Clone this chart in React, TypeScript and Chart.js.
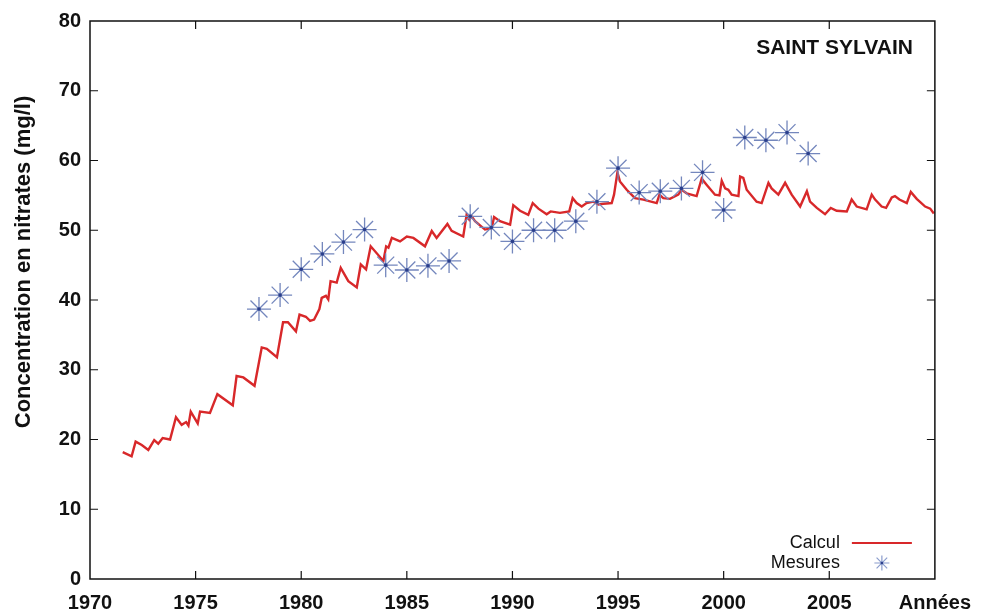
import React, { useEffect, useRef } from "react";
import { Chart, registerables } from "chart.js";

Chart.register(...registerables);

const calculYears = [
  1971.55, 1971.97, 1972.16, 1972.45, 1972.76, 1973.04, 1973.23, 1973.44, 1973.79, 1974.07,
  1974.34, 1974.55, 1974.66, 1974.77, 1975.1, 1975.21, 1975.68, 1976.03, 1976.76, 1976.94,
  1977.26, 1977.79, 1978.13, 1978.37, 1978.85, 1979.14, 1979.37, 1979.75, 1979.92, 1980.22,
  1980.42, 1980.61, 1980.86, 1980.97, 1981.17, 1981.28, 1981.39, 1981.68, 1981.87, 1982.23,
  1982.63, 1982.82, 1983.07, 1983.29, 1983.89, 1984.02, 1984.13, 1984.29, 1984.68, 1985.0,
  1985.31, 1985.86, 1986.18, 1986.41, 1986.92, 1987.12, 1987.67, 1987.83, 1987.96, 1988.07,
  1988.23, 1988.7, 1989.02, 1989.13, 1989.41, 1989.89, 1990.04, 1990.36, 1990.75, 1990.96,
  1991.23, 1991.62, 1991.81, 1992.25, 1992.69, 1992.85, 1993.04, 1993.28, 1993.51, 1993.83,
  1994.07, 1994.3, 1994.7, 1994.81, 1994.97, 1995.09, 1995.41, 1995.8, 1996.2, 1996.83,
  1996.96, 1997.14, 1997.46, 1997.85, 1998.01, 1998.25, 1998.72, 1998.96, 1999.2, 1999.59,
  1999.8, 1999.91, 2000.07, 2000.22, 2000.38, 2000.7, 2000.78, 2000.93, 2001.09, 2001.56,
  2001.8, 2002.12, 2002.27, 2002.59, 2002.91, 2003.22, 2003.62, 2003.94, 2004.09, 2004.41,
  2004.8, 2005.07, 2005.35, 2005.83, 2006.06, 2006.3, 2006.77, 2007.01, 2007.17, 2007.48,
  2007.69, 2007.96, 2008.11, 2008.32, 2008.67, 2008.86, 2009.14, 2009.54, 2009.78, 2009.95,
];

const calculValues = [
  18.2, 17.6, 19.7, 19.2, 18.5, 19.9, 19.4, 20.2, 20.0, 23.2,
  22.1, 22.5, 22.0, 24.0, 22.3, 24.0, 23.8, 26.5, 24.9, 29.1,
  28.9, 27.7, 33.2, 33.0, 31.8, 36.8, 36.8, 35.5, 37.9, 37.6,
  37.0, 37.2, 38.7, 40.3, 40.6, 40.1, 42.7, 42.5, 44.6, 42.7,
  41.8, 45.1, 44.4, 47.7, 45.6, 47.7, 47.5, 48.9, 48.4, 49.1,
  48.9, 47.7, 49.9, 48.9, 50.9, 49.9, 49.1, 52.2, 51.5, 52.0,
  51.3, 50.1, 50.3, 51.9, 51.3, 50.8, 53.6, 52.8, 52.2, 53.9,
  53.1, 52.3, 52.7, 52.5, 52.7, 54.6, 53.9, 53.4, 53.9, 54.1,
  53.7, 53.8, 53.9, 55.1, 58.3, 57.0, 55.8, 54.6, 54.4, 53.9,
  55.1, 54.6, 54.5, 55.1, 55.8, 55.3, 54.9, 57.4, 56.5, 55.1,
  55.0, 57.1, 56.0, 55.8, 55.1, 54.9, 57.7, 57.5, 55.8, 54.1,
  53.9, 56.8, 56.0, 55.1, 56.8, 55.1, 53.4, 55.6, 54.1, 53.2,
  52.3, 53.2, 52.8, 52.7, 54.4, 53.4, 53.0, 55.1, 54.4, 53.4,
  53.2, 54.7, 54.9, 54.4, 53.9, 55.5, 54.5, 53.4, 53.1, 52.4,
];

const mesuresYears = [
  1978, 1979, 1980, 1981, 1982, 1983, 1984, 1985, 1986, 1987, 1988, 1989, 1990, 1991,
  1992, 1993, 1994, 1995, 1996, 1997, 1998, 1999, 2000, 2001, 2002, 2003, 2004,
];
const mesuresValues = [
  38.7, 40.7, 44.4, 46.6, 48.3, 50.1, 45.0, 44.3, 44.9, 45.6, 52.0, 50.4, 48.4, 50.0,
  50.0, 51.3, 54.1, 58.9, 55.4, 55.6, 56.0, 58.3, 52.9, 63.3, 62.9, 64.0, 61.0,
];

const chartTitle = "SAINT SYLVAIN";
const yAxisTitle = "Concentration en nitrates (mg/l)";
const xAxisEndLabel = "Années";
const legendLabels = ["Calcul", "Mesures"];

const FONT = "'Liberation Sans', Arial, Helvetica, sans-serif";
const RED = "#d8282a";
const STAR = "#7487bd";

const framePlugin = {
  id: "frame",
  afterDraw(chart: any) {
    const { ctx, chartArea: a, scales } = chart;
    const xs = scales.x;
    const ys = scales.y;
    ctx.save();
    ctx.strokeStyle = "#111";
    ctx.lineWidth = 1.5;
    ctx.strokeRect(a.left, a.top, a.right - a.left, a.bottom - a.top);
    ctx.lineWidth = 1.2;
    const tl = 8;
    ctx.beginPath();
    for (let v = 1975; v < 2010; v += 5) {
      const px = xs.getPixelForValue(v);
      ctx.moveTo(px, a.bottom);
      ctx.lineTo(px, a.bottom - tl);
      ctx.moveTo(px, a.top);
      ctx.lineTo(px, a.top + tl);
    }
    for (let v = 10; v < 80; v += 10) {
      const py = ys.getPixelForValue(v);
      ctx.moveTo(a.left, py);
      ctx.lineTo(a.left + tl, py);
      ctx.moveTo(a.right, py);
      ctx.lineTo(a.right - tl, py);
    }
    ctx.stroke();

    // title
    ctx.fillStyle = "#111";
    ctx.font = `bold 21px ${FONT}`;
    ctx.textAlign = "right";
    ctx.textBaseline = "middle";
    ctx.fillText(chartTitle, a.right - 22, 48);

    // y axis title
    ctx.save();
    ctx.translate(24, 262);
    ctx.rotate(-Math.PI / 2);
    ctx.textAlign = "center";
    ctx.font = `bold 22px ${FONT}`;
    ctx.fillText(yAxisTitle, 0, 0);
    ctx.restore();

    // legend
    ctx.font = `18px ${FONT}`;
    ctx.fillStyle = "#111";
    ctx.textAlign = "right";
    const tx = a.right - 95;
    const y1 = a.bottom - 36;
    const y2 = a.bottom - 16;
    ctx.fillText(legendLabels[0], tx, y1);
    ctx.fillText(legendLabels[1], tx, y2);
    ctx.strokeStyle = RED;
    ctx.lineWidth = 2;
    ctx.beginPath();
    ctx.moveTo(tx + 12, y1);
    ctx.lineTo(tx + 72, y1);
    ctx.stroke();
    // asterisk
    const cx = tx + 42;
    const r = 7.5;
    ctx.strokeStyle = "#8a9ccc";
    ctx.lineWidth = 1.2;
    ctx.beginPath();
    for (let k = 0; k < 4; k++) {
      const ang = (k * Math.PI) / 4;
      ctx.moveTo(cx - r * Math.cos(ang), y2 - r * Math.sin(ang));
      ctx.lineTo(cx + r * Math.cos(ang), y2 + r * Math.sin(ang));
    }
    ctx.stroke();
    ctx.fillStyle = "#2b3f8c";
    ctx.beginPath();
    ctx.arc(cx, y2, 1.3, 0, Math.PI * 2);
    ctx.fill();
    ctx.restore();
  },
};

export default function App() {
  const ref = useRef<HTMLCanvasElement | null>(null);

  useEffect(() => {
    document.body.style.margin = "0";
    const canvas = ref.current;
    if (!canvas) return;
    const calcul = calculYears.map((x, i) => ({ x, y: calculValues[i] }));
    const mesures = mesuresYears.map((x, i) => ({ x, y: mesuresValues[i] }));
    const chart = new Chart(canvas, {
      type: "scatter",
      data: {
        datasets: [
          {
            label: legendLabels[0],
            data: calcul,
            showLine: true,
            borderColor: RED,
            borderWidth: 2.4,
            pointRadius: 0,
            tension: 0,
            order: 2,
          },
          {
            label: legendLabels[1],
            data: mesures,
            showLine: false,
            pointStyle: "star",
            pointRadius: 12,
            borderColor: STAR,
            backgroundColor: STAR,
            borderWidth: 1.3,
            order: 1,
          },
          {
            label: "dots",
            data: mesures,
            showLine: false,
            pointStyle: "circle",
            pointRadius: 1.8,
            borderWidth: 0,
            backgroundColor: "#2b3f8c",
            order: 0,
          },
        ],
      },
      options: {
        responsive: false,
        animation: false,
        maintainAspectRatio: false,
        layout: { padding: { left: 0, right: 48, top: 14, bottom: 0 } },
        plugins: {
          legend: { display: false },
          tooltip: { enabled: false },
          title: { display: false },
        },
        scales: {
          x: {
            type: "linear",
            min: 1970,
            max: 2010,
            grid: { display: false, drawTicks: false },
            border: { display: false },
            ticks: {
              stepSize: 5,
              autoSkip: false,
              maxRotation: 0,
              padding: 12,
              color: "#111",
              font: { family: FONT, size: 20, weight: "bold" },
              callback: (v: any) => (v === 2010 ? xAxisEndLabel : String(v)),
            },
            afterFit: (s: any) => {
              s.height = 35;
            },
          },
          y: {
            min: 0,
            max: 80,
            grid: { display: false, drawTicks: false },
            border: { display: false },
            ticks: {
              stepSize: 10,
              padding: 9,
              color: "#111",
              font: { family: FONT, size: 20, weight: "bold" },
            },
            afterFit: (s: any) => {
              s.width = 90;
            },
          },
        },
      },
      plugins: [framePlugin],
    });
    return () => chart.destroy();
  }, []);

  return (
    <div style={{ width: 983, height: 614, position: "relative", background: "#fff" }}>
      <canvas ref={ref} width={983} height={614} style={{ display: "block" }} />
    </div>
  );
}
